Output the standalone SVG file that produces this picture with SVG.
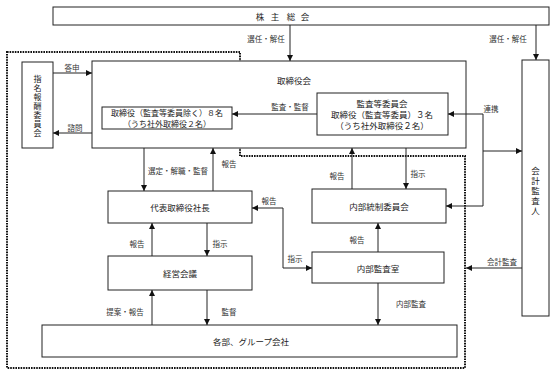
<svg xmlns="http://www.w3.org/2000/svg" width="560" height="375" viewBox="0 0 560 375">
<style>
.box{fill:#fff;stroke:#222;stroke-width:1}
.t{font-family:"Noto Sans CJK JP","Liberation Serif",sans-serif;font-size:8.5px;fill:#222;text-anchor:middle;dominant-baseline:central}
.vt{font-family:"Noto Sans CJK JP","Liberation Serif",sans-serif;fill:#222;text-anchor:middle;writing-mode:vertical-rl}
.l{font-family:"Noto Sans CJK JP","Liberation Serif",sans-serif;font-size:7.5px;fill:#333;text-anchor:middle;dominant-baseline:central}
.c{fill:none;stroke:#222;stroke-width:1}
.a{marker-end:url(#ah)}
.b{marker-start:url(#ah);marker-end:url(#ah)}
.dot{fill:none;stroke:#111;stroke-width:2;stroke-dasharray:1.6 1}
</style>
<defs>
<marker id="ah" markerUnits="userSpaceOnUse" markerWidth="7" markerHeight="6" refX="6" refY="3" orient="auto-start-reverse">
<path d="M0,0 L6,3 L0,6 z" fill="#111"/>
</marker>
</defs>
<rect width="560" height="375" fill="#fff"/>
<path class="dot" d="M7,52 H240 V156 H465 V368 H7 Z"/>
<g id="shareholders">
<rect class="box" x="53" y="7" width="496" height="18"/>
<text class="t" y="16"><tspan x="260">株</tspan><tspan x="275">主</tspan><tspan x="291">総</tspan><tspan x="305">会</tspan></text>
</g>
<g id="board">
<rect class="box" x="92" y="61" width="374" height="87"/>
<text class="t" x="294" y="80">取締役会</text>
</g>
<g id="directors">
<rect class="box" x="102" y="107" width="130" height="22"/>
<text class="t" x="167" y="112.5" style="font-size:8px">取締役（監査等委員除く）８名</text>
<text class="t" x="167" y="123.5" style="font-size:8px">（うち社外取締役２名）</text>
</g>
<g id="audit-committee">
<rect class="box" x="317" y="93" width="131" height="42"/>
<text class="t" x="382" y="103">監査等委員会</text>
<text class="t" x="382" y="114">取締役（監査等委員）３名</text>
<text class="t" x="382" y="125">（うち社外取締役２名）</text>
</g>
<g id="nomination">
<rect class="box" x="22" y="62" width="31" height="86"/>
<text class="vt" x="37.5" y="106" style="font-size:8px;letter-spacing:1px">指名報酬委員会</text>
</g>
<g id="auditor">
<rect class="box" x="522" y="60" width="27" height="256"/>
<text class="vt" x="535.5" y="192" style="font-size:8.5px;letter-spacing:1.5px">会計監査人</text>
</g>
<g id="president">
<rect class="box" x="108" y="191" width="144" height="32"/>
<text class="t" x="180" y="207">代表取締役社長</text>
</g>
<g id="internal-control">
<rect class="box" x="312" y="189" width="134" height="34"/>
<text class="t" x="379" y="206">内部統制委員会</text>
</g>
<g id="management">
<rect class="box" x="108" y="256" width="144" height="34"/>
<text class="t" x="180" y="273">経営会議</text>
</g>
<g id="internal-audit">
<rect class="box" x="312" y="252" width="132" height="31"/>
<text class="t" x="378" y="268">内部監査室</text>
</g>
<g id="departments">
<rect class="box" x="42" y="325" width="415" height="32"/>
<text class="t" x="251" y="341">各部、グループ会社</text>
</g>
<g id="connectors">
<path class="c a" d="M290,25 V61"/>
<path class="c a" d="M536,25 V60"/>
<path class="c a" d="M53,73 H92"/>
<path class="c a" d="M92,133 H53"/>
<path class="c a" d="M317,114 H232"/>
<path class="c b" d="M446,206 H483 V114 H448"/>
<path class="c a" d="M483,151 H522"/>
<path class="c a" d="M144,148 V191"/>
<path class="c a" d="M213,191 V148"/>
<path class="c a" d="M352,189 V148"/>
<path class="c a" d="M406,148 V189"/>
<path class="c b" d="M252,208 H283 V268 H312"/>
<path class="c a" d="M378,252 V223"/>
<path class="c a" d="M522,268 H466"/>
<path class="c a" d="M378,283 V325"/>
<path class="c a" d="M152,256 V223"/>
<path class="c a" d="M207,223 V256"/>
<path class="c a" d="M152,325 V290"/>
<path class="c a" d="M207,290 V325"/>
<text class="l" x="266" y="38">選任・解任</text>
<text class="l" x="508" y="38">選任・解任</text>
<text class="l" x="72" y="67">答申</text>
<text class="l" x="75" y="127">諮問</text>
<text class="l" x="290" y="106">監査・監督</text>
<text class="l" x="491" y="108">連携</text>
<text class="l" x="178" y="170">選定・解職・監督</text>
<text class="l" x="229" y="163">報告</text>
<text class="l" x="337" y="175">報告</text>
<text class="l" x="418" y="173">指示</text>
<text class="l" x="269" y="200">報告</text>
<text class="l" x="295" y="258">指示</text>
<text class="l" x="357" y="239">報告</text>
<text class="l" x="502" y="261">会計監査</text>
<text class="l" x="411" y="303">内部監査</text>
<text class="l" x="137" y="243">報告</text>
<text class="l" x="220" y="243">指示</text>
<text class="l" x="125" y="311">提案・報告</text>
<text class="l" x="229" y="311">監督</text>
</g>
</svg>
